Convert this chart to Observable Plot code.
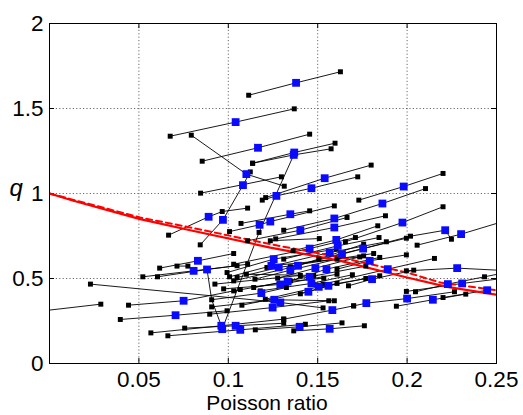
<!DOCTYPE html>
<html><head><meta charset="utf-8">
<script src="https://cdn.jsdelivr.net/npm/d3@7"></script>
<script src="https://cdn.jsdelivr.net/npm/@observablehq/plot@0.6"></script>
<style>body{margin:0;background:#fff}svg{display:block}</style>
</head><body><div id="chart"></div>
<script>
// Each series: Poisson ratio values, q values, and marker kinds (k = end point, B = measured, n = none)
const lineX = [
[0.1114,0.1379,0.1627],[0.0675,0.1041,0.1369],[0.0793,0.1101,0.1313],[0.0854,0.1166,0.1455],
[0.1136,0.1369,0.1597],[0.1136,0.1366,0.1575],[0.1123,0.1082,0.097,0.0843],[0.0845,0.1297],
[0.1209,0.1539,0.1799],[0.119,0.1269,0.1465,0.1724],[0.1366,0.1172,0.0966],[0.0666,0.089,0.0966],
[0.0966,0.1108],[0.173,0.1981,0.2201],[0.131,0.1593,0.1862,0.2103],[0.1007,0.1175,0.1235,0.1593],
[0.1071,0.1347,0.1455],[0.1108,0.1403,0.1664],[0.1655,0.1974,0.2201],[0.2056,0.2302,0.258],
[0.2019,0.2213,0.2248],[0.1265,0.1593,0.1879],[0.1362,0.1604,0.1836],[0.103,0.1455,0.1711],
[0.131,0.1612,0.1843],[0.1216,0.1567,0.1884],[0.1347,0.1636,0.2019],[0.1506,0.1754,0.1996],
[0.1608,0.1791,0.1996],[0.153,0.1892,0.2153],[0.1996,0.228,0.258],[0.1672,0.1804,0.2037],
[0.2047,0.2228,0.2433,0.258],[0.1996,0.2308,0.258],[0.1701,0.1772,0.2,0.2265],[0.194,0.2144,0.2328],
[0.2201,0.2448],[0.0616,0.083,0.103],[0.0713,0.0774],[0.0522,0.0806,0.1049],
[0.0604,0.0881,0.1108],[0.0993,0.1254,0.1604],[0.1007,0.1241,0.1735],[0.1049,0.1282,0.1813],
[0.1149,0.1347,0.1608],[0.103,0.139,0.1757],[0.1276,0.1487,0.1757],[0.1347,0.1549,0.1847],
[0.1142,0.1455,0.1769],[0.1179,0.1465,0.1694],[0.0974,0.1291,0.1608],[0.103,0.1332,0.1534],
[0.0907,0.1185,0.1325],[0.0907,0.1257,0.1593],[0.0229,0.1291,0.153],[0.1076,0.1448,0.1608],
[0.1207,0.1506,0.1769],[0.1403,0.156,0.1847],[0.0442,0.075,0.1067],[0.0396,0.0705,0.0993],
[-0.01,0.0287],[0.0896,0.1248,0.1562],[0.131,0.1582,0.1701],[0.0567,0.0961,0.131],
[0.0662,0.1067,0.1431],[0.0756,0.1041,0.131],[0.1151,0.1399,0.1636],[0.1366,0.1567,0.1761],
[0.0881,0.0907,0.0961],[0.0925,0.1403],[0.1101,0.1478],[0.1235,0.1509]
];
const lineQ = [
[1.578,1.651,1.716],[1.337,1.42,1.498],[1.343,1.114,1.043],[1.19,1.269,1.349],
[1.178,1.241,1.296],[1.178,1.227,1.263],[1.127,1.049,0.845,0.698],[1.002,1.098],
[0.976,1.09,1.167],[0.961,0.986,1.031,1.098],[1.227,0.771,0.202],[0.755,0.863,0.894],
[0.894,0.914],[0.961,1.041,1.118],[0.784,0.853,0.941,1.029],[0.776,0.816,0.835,0.927],
[0.824,0.878,0.898],[0.722,0.784,0.859],[0.716,0.829,0.922],[0.696,0.761,0.849],
[0.749,0.784,0.731],[0.733,0.8,0.869],[0.663,0.727,0.81],[0.584,0.676,0.741],
[0.614,0.692,0.741],[0.565,0.653,0.716],[0.569,0.643,0.749],[0.614,0.676,0.737],
[0.555,0.604,0.639],[0.467,0.555,0.618],[0.545,0.561,0.545],[0.457,0.496,0.549],
[0.422,0.467,0.51,0.541],[0.424,0.471,0.506],[0.339,0.355,0.382,0.422],[0.337,0.375,0.408],
[0.388,0.431],[0.561,0.604,0.647],[0.573,0.573],[0.51,0.545,0.575],
[0.51,0.553,0.584],[0.535,0.614,0.673],[0.51,0.575,0.627],[0.506,0.565,0.647],
[0.496,0.549,0.614],[0.486,0.575,0.702],[0.502,0.561,0.633],[0.486,0.555,0.624],
[0.447,0.51,0.573],[0.427,0.471,0.522],[0.439,0.465,0.525],[0.427,0.482,0.502],
[0.375,0.414,0.447],[0.333,0.375,0.369],[0.467,0.359,0.327],[0.343,0.422,0.471],
[0.378,0.451,0.5],[0.41,0.457,0.516],[0.343,0.369,0.435],[0.259,0.284,0.31],
[0.302,0.349],[0.29,0.329,0.369],[0.261,0.314,0.339],[0.18,0.222,0.261],
[0.163,0.198,0.231],[0.208,0.222,0.237],[0.198,0.216,0.239],[0.192,0.204,0.222],
[0.553,0.375,0.222],[0.467,0.518],[0.525,0.518],[0.722,0.735]
];
const lineKind = [
"kBk","kBk","kBk","kBk","kBk","kBk","kBBk","kk","kBk","kBBk","nkB","kBk",
"nk","kBk","kBBk","kBBk","kBk","kBk","kBk","kBn","kBk","kBk","kBk","kBk",
"kBk","kBk","kBn","kBk","kBk","kBk","kBn","kBk","kBkn","kBn","kBBk","kBk",
"kB","kBk","kk","kBk","kBk","kBk","kBk","kBk","kBk","kBk","kBk","kBk",
"kBk","kBk","kBk","kBk","kBk","kBk","kBk","kBk","kBk","kBk","kBk","kBk",
"nk","kBk","kBk","kBk","kBk","kBk","kBk","kBk","nnn","kk","kk","kk"
];
// Fitted curves
const fitX = [0, 0.0134, 0.0507, 0.0787, 0.1235, 0.1627, 0.2, 0.2224, 0.25];
const fitQ = [1.0, 0.957, 0.849, 0.784, 0.682, 0.604, 0.506, 0.451, 0.404];
const dashX = [0, 0.0507, 0.0787, 0.1235, 0.1627, 0.2, 0.2187, 0.25];
const dashQ = [1.0, 0.859, 0.8, 0.702, 0.624, 0.535, 0.476, 0.431];
// Ticks
const xTicks = [0.05, 0.1, 0.15, 0.2, 0.25];
const yTicks = [0, 0.5, 1, 1.5, 2];
const xLabel = "Poisson ratio";
const yLabel = "q";

const pts = [];
lineX.forEach((xs, i) => xs.forEach((x, j) => pts.push({id: i, x, q: lineQ[i][j], k: lineKind[i][j]})));
const fit = fitX.map((x, i) => ({x, q: fitQ[i]}));
const dash = dashX.map((x, i) => ({x, q: dashQ[i]}));

const plot = Plot.plot({
  width: 523, height: 415,
  marginLeft: 49, marginRight: 27, marginTop: 23, marginBottom: 52,
  style: {fontFamily: "'Liberation Sans', Arial, sans-serif", fontSize: "22.5px", background: "#fff", color: "#000"},
  x: {domain: [0, 0.25], ticks: xTicks, tickSize: 0, tickPadding: 8, tickFormat: d => String(d), label: null},
  y: {domain: [0, 2], ticks: yTicks, tickSize: 0, tickPadding: 6, tickFormat: d => String(d), label: null},
  marks: [
    Plot.ruleX(xTicks.slice(0, 4), {x: d => d, stroke: "#444", strokeWidth: 0.8, strokeDasharray: "1.2,2.2"}),
    Plot.ruleY(yTicks.slice(1, 4), {y: d => d, stroke: "#444", strokeWidth: 0.8, strokeDasharray: "1.2,2.2"}),
    Plot.ruleX(xTicks, {x: d => d, y1: 0, y2: 0.03, stroke: "#000"}),
    Plot.ruleX(xTicks, {x: d => d, y1: 2, y2: 1.97, stroke: "#000"}),
    Plot.ruleY(yTicks, {y: d => d, x1: 0, x2: 0.0028, stroke: "#000"}),
    Plot.ruleY(yTicks, {y: d => d, x1: 0.25, x2: 0.2472, stroke: "#000"}),
    Plot.line(pts, {x: "x", y: "q", z: "id", stroke: "#000", strokeWidth: 0.9, clip: true}),
    Plot.line(dash, {x: "x", y: "q", stroke: "#ff0000", strokeWidth: 2, strokeDasharray: "6,4", clip: true}),
    Plot.line(fit, {x: "x", y: "q", stroke: "#ff0000", strokeWidth: 2.2, clip: true}),
    Plot.dot(pts.filter(d => d.k === "k"), {x: "x", y: "q", symbol: "square", r: 2.8, fill: "#000", stroke: "none", clip: true}),
    Plot.dot(pts.filter(d => d.k === "B"), {x: "x", y: "q", symbol: "square", r: 4.4, fill: "#0a0aff", stroke: "none", clip: true}),
    Plot.frame({stroke: "#000", strokeWidth: 1}),
    Plot.text([xLabel], {text: d => d, frameAnchor: "bottom", dx: -6, dy: 40, fontSize: 21, lineAnchor: "middle"}),
    Plot.text([yLabel], {text: d => d, frameAnchor: "left", textAnchor: "start", dx: -40, dy: -5, fontSize: 24, fontStyle: "italic", lineAnchor: "middle"})
  ]
});
document.getElementById("chart").appendChild(plot);
</script>
</body></html>
